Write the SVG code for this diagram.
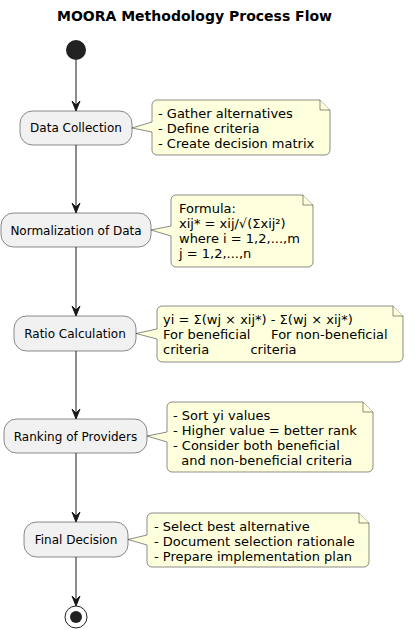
<svg xmlns="http://www.w3.org/2000/svg" width="418" height="630" viewBox="0 0 418 630">
<style>
.title{font-family:"DejaVu Sans",sans-serif;font-size:14px;font-weight:bold;fill:#000}
.box{fill:#F1F1F1;stroke:#181818;stroke-width:0.5}
.bt{font-family:"DejaVu Sans",sans-serif;font-size:12px;fill:#000;text-anchor:middle}
.note{fill:#FEFFDD;stroke:#181818;stroke-width:0.5}
.nt{font-family:"DejaVu Sans",sans-serif;font-size:13px;fill:#000;white-space:pre}
.ln{stroke:#181818;stroke-width:1;fill:none}
.ah{fill:#181818;stroke:#181818;stroke-width:1}
</style>
<rect width="418" height="630" fill="#FFFFFF"/>
<text class="title" x="194.5" y="20.5" text-anchor="middle">MOORA Methodology Process Flow</text>
<g id="connectors">
<line class="ln" x1="76" y1="60" x2="76" y2="105"/>
<polygon class="ah" points="72,101 76,111 80,101 76,105"/>
<line class="ln" x1="76" y1="145" x2="76" y2="207"/>
<polygon class="ah" points="72,203 76,213 80,203 76,207"/>
<line class="ln" x1="76" y1="247" x2="76" y2="310"/>
<polygon class="ah" points="72,306 76,316 80,306 76,310"/>
<line class="ln" x1="76" y1="350" x2="76" y2="413"/>
<polygon class="ah" points="72,409 76,419 80,409 76,413"/>
<line class="ln" x1="76" y1="453" x2="76" y2="516"/>
<polygon class="ah" points="72,512 76,522 80,512 76,516"/>
<line class="ln" x1="76" y1="556" x2="76" y2="600"/>
<polygon class="ah" points="72,596 76,606 80,596 76,600"/>
</g>
<g id="start"><circle cx="76" cy="50" r="10" fill="#222222"/></g>
<g id="n1">
<rect class="box" x="20" y="111" width="112" height="34" rx="12.5"/>
<text class="bt" x="76" y="132">Data Collection</text>
</g>
<g id="note1">
<path class="note" d="M152,105 A5,5 0 0 1 157,100 L320,100 L330,110 L330,150 A5,5 0 0 1 325,155 L157,155 A5,5 0 0 1 152,150 L152,132 L132,128 L152,122 Z"/>
<path class="note" d="M320,100 L320,110 L330,110"/>
<text class="nt" x="158" y="117.5">- Gather alternatives</text>
<text class="nt" x="158" y="132.6">- Define criteria</text>
<text class="nt" x="158" y="147.7">- Create decision matrix</text>
</g>
<g id="n2">
<rect class="box" x="1" y="213" width="150" height="34" rx="12.5"/>
<text class="bt" x="76" y="234.5">Normalization of Data</text>
</g>
<g id="note2">
<path class="note" d="M171,200 A5,5 0 0 1 176,195 L303,195 L313,205 L313,262 A5,5 0 0 1 308,267 L176,267 A5,5 0 0 1 171,262 L171,236 L151,230 L171,226 Z"/>
<path class="note" d="M303,195 L303,205 L313,205"/>
<text class="nt" x="179" y="212.5">Formula:</text>
<text class="nt" x="179" y="227.6">xij* = xij/√(Σxij²)</text>
<text class="nt" x="179" y="242.7">where i = 1,2,...,m</text>
<text class="nt" x="179" y="257.8">j = 1,2,...,n</text>
</g>
<g id="n3">
<rect class="box" x="14" y="316" width="122" height="35" rx="12.5"/>
<text class="bt" x="75" y="337.5">Ratio Calculation</text>
</g>
<g id="note3">
<path class="note" d="M157,311 A5,5 0 0 1 162,306 L393,306 L403,316 L403,357 A5,5 0 0 1 398,362 L162,362 A5,5 0 0 1 157,357 L157,339 L136,333.5 L157,329 Z"/>
<path class="note" d="M393,306 L393,316 L403,316"/>
<text class="nt" x="163" y="323.5">yi = Σ(wj × xij*) - Σ(wj × xij*)</text>
<text class="nt" x="163" y="338.6">For beneficial     For non-beneficial</text>
<text class="nt" x="163" y="353.7">criteria          criteria</text>
</g>
<g id="n4">
<rect class="box" x="4" y="419" width="143" height="34" rx="12.5"/>
<text class="bt" x="75.5" y="440.5">Ranking of Providers</text>
</g>
<g id="note4">
<path class="note" d="M167,407 A5,5 0 0 1 172,402 L363,402 L373,412 L373,467 A5,5 0 0 1 368,472 L172,472 A5,5 0 0 1 167,467 L167,442 L147,436 L167,432 Z"/>
<path class="note" d="M363,402 L363,412 L373,412"/>
<text class="nt" x="173" y="419.5">- Sort yi values</text>
<text class="nt" x="173" y="434.6">- Higher value = better rank</text>
<text class="nt" x="173" y="449.7">- Consider both beneficial</text>
<text class="nt" x="173" y="464.8">  and non-beneficial criteria</text>
</g>
<g id="n5">
<rect class="box" x="24" y="522" width="104" height="35" rx="12.5"/>
<text class="bt" x="76" y="543.5">Final Decision</text>
</g>
<g id="note5">
<path class="note" d="M147,518 A5,5 0 0 1 152,513 L359,513 L369,523 L369,562 A5,5 0 0 1 364,567 L152,567 A5,5 0 0 1 147,562 L147,545 L128,539.5 L147,535 Z"/>
<path class="note" d="M359,513 L359,523 L369,523"/>
<text class="nt" x="154" y="530.5">- Select best alternative</text>
<text class="nt" x="154" y="545.6">- Document selection rationale</text>
<text class="nt" x="154" y="560.7">- Prepare implementation plan</text>
</g>
<g id="end">
<circle cx="76" cy="617" r="11" fill="none" stroke="#222222" stroke-width="1"/>
<circle cx="76" cy="617" r="6" fill="#222222"/>
</g>
</svg>
